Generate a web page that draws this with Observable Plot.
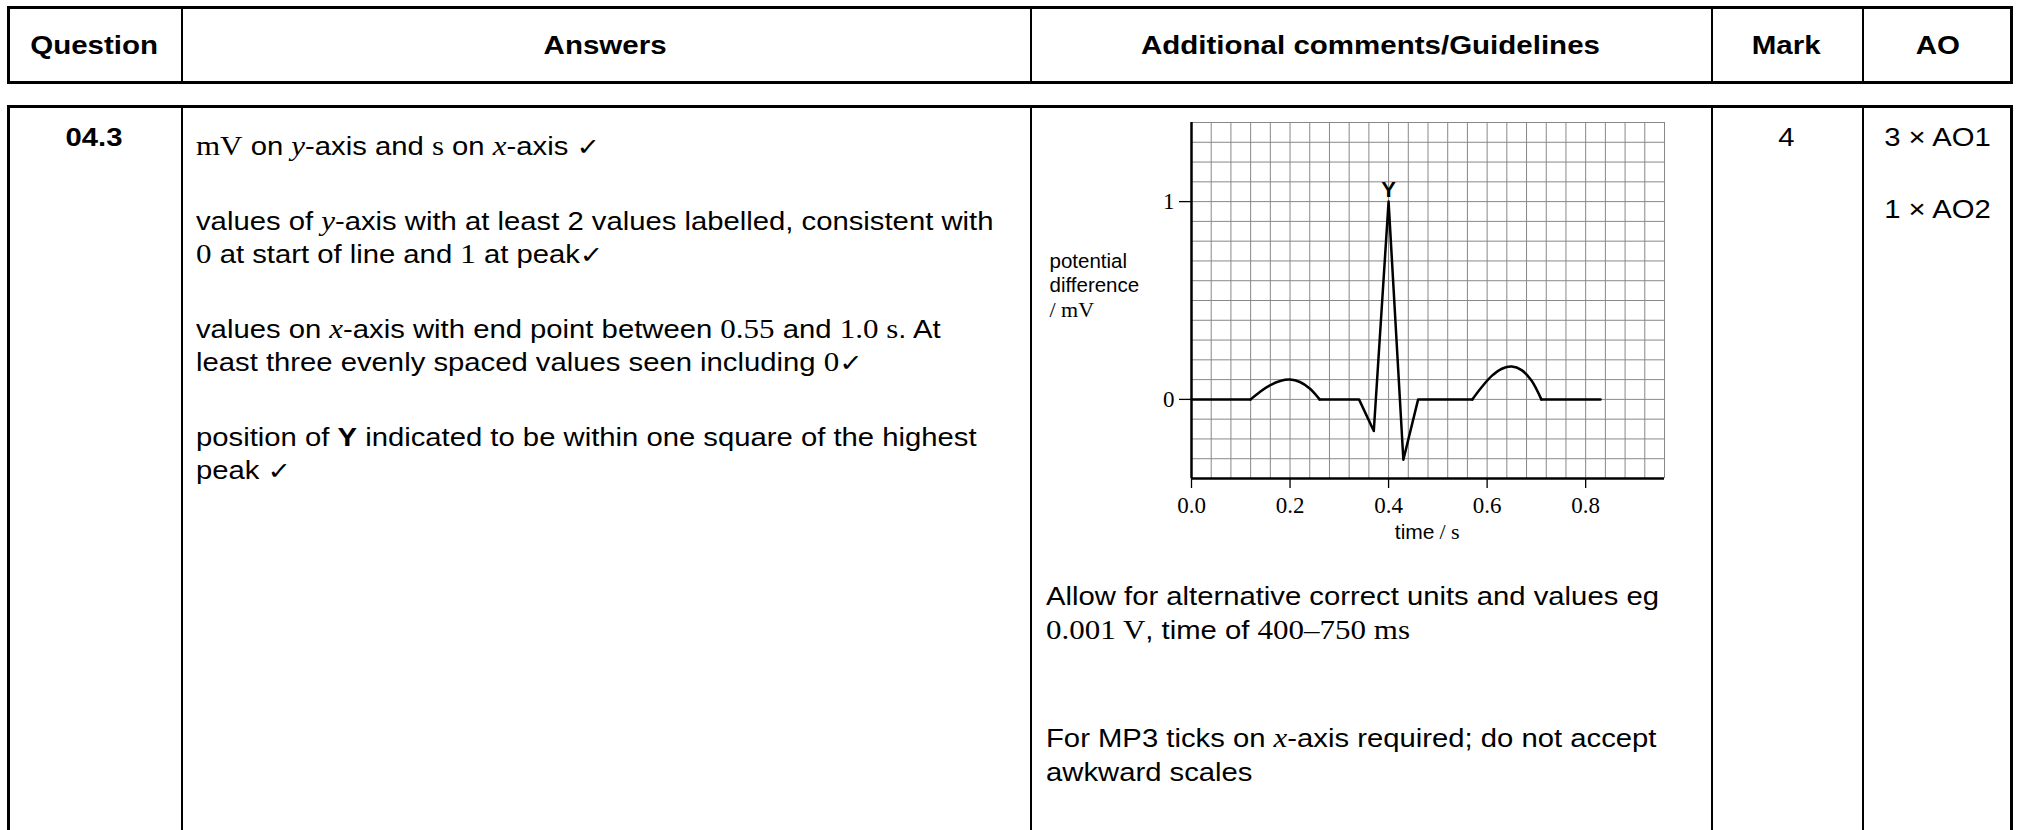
<!DOCTYPE html>
<html>
<head>
<meta charset="utf-8">
<script src="https://cdn.jsdelivr.net/npm/d3@7"></script>
<script src="https://cdn.jsdelivr.net/npm/@observablehq/plot@0.6"></script>
<style>
html, body { margin: 0; padding: 0; background: #fff; }
body { width: 2019px; height: 830px; position: relative; overflow: hidden;
       font-family: "Liberation Sans", Arial, Helvetica, sans-serif; color: #000; }
.box { position: absolute; border: 3px solid #000; box-sizing: border-box; }
.vl { position: absolute; width: 2px; background: #000; }
.t { position: absolute; white-space: nowrap; }
.s { font-family: "Liberation Serif", "Times New Roman", serif; font-size: 26.5px; }
.ck { font-family: "DejaVu Sans", sans-serif; font-size: 24px; }
.hd { position: absolute; top: 6px; height: 78px; display: flex; align-items: center; justify-content: center;
      font-weight: bold; font-size: 25px; }
.hd span { display: inline-block; transform: scaleX(1.18); }
#chart { position: absolute; left: 1040px; top: 110px; }
</style>
</head>
<body>
<script>
// ---- chart data ----
// straight parts of the trace (baseline segments and the QRS spike); part = separate polyline
const flatQrsTime = [0, 0.12, 0.26, 0.34, 0.37, 0.40, 0.43, 0.46, 0.57, 0.71, 0.83];
const flatQrsMV   = [0, 0,    0,    0,   -0.16, 1.0, -0.305, 0,   0,    0,    0];
const flatQrsPart = [1, 1,    2,    2,    2,    2,    2,    2,    2,    3,    3];
// rounded P wave and T wave
const pWaveTime = [0.12, 0.14, 0.16, 0.18, 0.20, 0.22, 0.24, 0.26];
const pWaveMV   = [0, 0.04, 0.072, 0.093, 0.10, 0.088, 0.055, 0];
const tWaveTime = [0.57, 0.59, 0.61, 0.63, 0.65, 0.67, 0.69, 0.71];
const tWaveMV   = [0, 0.065, 0.12, 0.155, 0.166, 0.148, 0.095, 0];
const xTickValues = [0, 0.2, 0.4, 0.6, 0.8];
const yTickValues = [0, 1];
const xDomain = [0, 0.96];
const yDomain = [-0.4, 1.4];
const peakLabel = "Y";

// ---- table layout ----
const cols = [181, 1030, 1711, 1862];
function box(top, height) {
  const b = document.createElement("div");
  b.className = "box";
  Object.assign(b.style, {left: "7px", top: top + "px", width: "2006px", height: height + "px"});
  document.body.appendChild(b);
  for (const c of cols) {
    const v = document.createElement("div");
    v.className = "vl";
    Object.assign(v.style, {left: c + "px", top: top + "px", height: height + "px"});
    document.body.appendChild(v);
  }
}
box(6, 78);
box(105, 800);

const heads = [["Question", 7, 181], ["Answers", 181, 1030], ["Additional comments/Guidelines", 1030, 1711],
               ["Mark", 1711, 1862], ["AO", 1862, 2013]];
for (const [txt, a, b] of heads) {
  const h = document.createElement("div");
  h.className = "hd";
  Object.assign(h.style, {left: a + "px", width: (b - a) + "px"});
  const sp = document.createElement("span");
  sp.textContent = txt;
  h.appendChild(sp);
  document.body.appendChild(h);
}

const STRETCH = 1.17;
function place(html, o) {
  const el = document.createElement("div");
  el.className = "t";
  const size = o.size || 25, lh = o.lh || 33;
  el.style.fontSize = size + "px";
  el.style.lineHeight = lh + "px";
  if (o.bold) el.style.fontWeight = "bold";
  const off = (lh - 1.117 * size) / 2 + 0.905 * size;
  el.style.top = (o.baseline - off) + "px";
  el.style.left = o.left + "px";
  if (o.width) { el.style.width = o.width + "px"; el.style.textAlign = o.align || "left"; }
  el.style.transform = `scaleX(${STRETCH})`;
  el.style.transformOrigin = o.width && o.align === "center" ? "50% 0" : "0 0";
  el.innerHTML = html;
  document.body.appendChild(el);
}

place("04.3", {left: 7, width: 174, align: "center", baseline: 146, bold: true});
place("4", {left: 1711, width: 151, align: "center", baseline: 146});
place("3 × AO1<div style='margin-top:39px'>1 × AO2</div>", {left: 1862, width: 151, align: "center", baseline: 146});

place(
  "<div><span class='s'>mV</span> on <i class='s'>y</i>-axis and <span class='s'>s</span> on <i class='s'>x</i>-axis <span class='ck'>✓</span></div>" +
  "<div style='margin-top:41px'>values of <i class='s'>y</i>-axis with at least 2 values labelled, consistent with<br>" +
  "<span class='s'>0</span> at start of line and <span class='s'>1</span> at peak<span class='ck'>✓</span></div>" +
  "<div style='margin-top:41px'>values on <i class='s'>x</i>-axis with end point between <span class='s'>0.55</span> and <span class='s'>1.0 s</span>. At<br>" +
  "least three evenly spaced values seen including <span class='s'>0</span><span class='ck'>✓</span></div>" +
  "<div style='margin-top:41px'>position of <b>Y</b> indicated to be within one square of the highest<br>peak <span class='ck'>✓</span></div>",
  {left: 196, baseline: 155});

place(
  "<div>Allow for alternative correct units and values eg<br><span class='s'>0.001 V</span>, time of <span class='s'>400–750 ms</span></div>" +
  "<div style='margin-top:74px'>For MP3 ticks on <i class='s'>x</i>-axis required; do not accept<br>awkward scales</div>",
  {left: 1046, baseline: 605, lh: 34});

// ---- chart ----
const sans = '"Liberation Sans", Arial, sans-serif';
const serif = '"Liberation Serif", "Times New Roman", serif';
const straight = flatQrsTime.map((t, i) => ({t, v: flatQrsMV[i], part: flatQrsPart[i]}));
const waves = [
  ...pWaveTime.map((t, i) => ({t, v: pWaveMV[i], part: "P"})),
  ...tWaveTime.map((t, i) => ({t, v: tWaveMV[i], part: "T"}))
];
const peak = straight.reduce((a, b) => (b.v > a.v ? b : a));
const gridXs = d3.range(0, 25).map(i => +(i * 0.04).toFixed(2));
const gridYs = d3.range(0, 19).map(i => +(-0.4 + i * 0.1).toFixed(1));

const chart = Plot.plot({
  width: 640,
  height: 440,
  marginLeft: 151,
  marginRight: 16,
  marginTop: 12,
  marginBottom: 72,
  x: {domain: xDomain},
  y: {domain: yDomain},
  style: {background: "transparent", color: "#000", overflow: "visible"},
  marks: [
    Plot.ruleX(gridXs, {stroke: "#888", strokeWidth: 1}),
    Plot.ruleY(gridYs, {stroke: "#888", strokeWidth: 1}),
    Plot.ruleX([xDomain[0]], {stroke: "#000", strokeWidth: 2.5}),
    Plot.ruleY([yDomain[0]], {x1: xDomain[0], x2: xDomain[1], stroke: "#000", strokeWidth: 2.5}),
    Plot.axisX(xTickValues, {anchor: "bottom", tickSize: 10, tickPadding: 8, tickFormat: d => d.toFixed(1),
      fontFamily: serif, fontSize: 23, label: null, strokeWidth: 1.3}),
    Plot.axisY(yTickValues, {anchor: "left", tickSize: 12, tickPadding: 5, tickFormat: d => String(d),
      fontFamily: serif, fontSize: 23, label: null, strokeWidth: 1.3}),
    Plot.line(straight, {x: "t", y: "v", z: "part", stroke: "#000", strokeWidth: 2.5}),
    Plot.line(waves, {x: "t", y: "v", z: "part", curve: "catmull-rom", stroke: "#000", strokeWidth: 2.5}),
    Plot.text([peak], {x: "t", y: "v", text: () => peakLabel, dy: -5, lineAnchor: "bottom",
      fontWeight: "bold", fontSize: 22, fontFamily: sans}),
    Plot.text(["potential"], {frameAnchor: "top-left", dx: -142, dy: 145, lineAnchor: "bottom",
      textAnchor: "start", fontFamily: sans, fontSize: 20.5}),
    Plot.text(["difference"], {frameAnchor: "top-left", dx: -142, dy: 169, lineAnchor: "bottom",
      textAnchor: "start", fontFamily: sans, fontSize: 20.5}),
    Plot.text(["/ mV"], {frameAnchor: "top-left", dx: -142, dy: 194, lineAnchor: "bottom",
      textAnchor: "start", fontFamily: serif, fontSize: 22}),
    Plot.text(["time"], {frameAnchor: "bottom-left", dx: 243, dy: 60, lineAnchor: "bottom",
      textAnchor: "end", fontFamily: sans, fontSize: 21}),
    Plot.text(["/ s"], {frameAnchor: "bottom-left", dx: 248, dy: 60, lineAnchor: "bottom",
      textAnchor: "start", fontFamily: serif, fontSize: 22})
  ]
});
const holder = document.createElement("div");
holder.id = "chart";
holder.appendChild(chart);
document.body.appendChild(holder);
</script>
</body>
</html>
